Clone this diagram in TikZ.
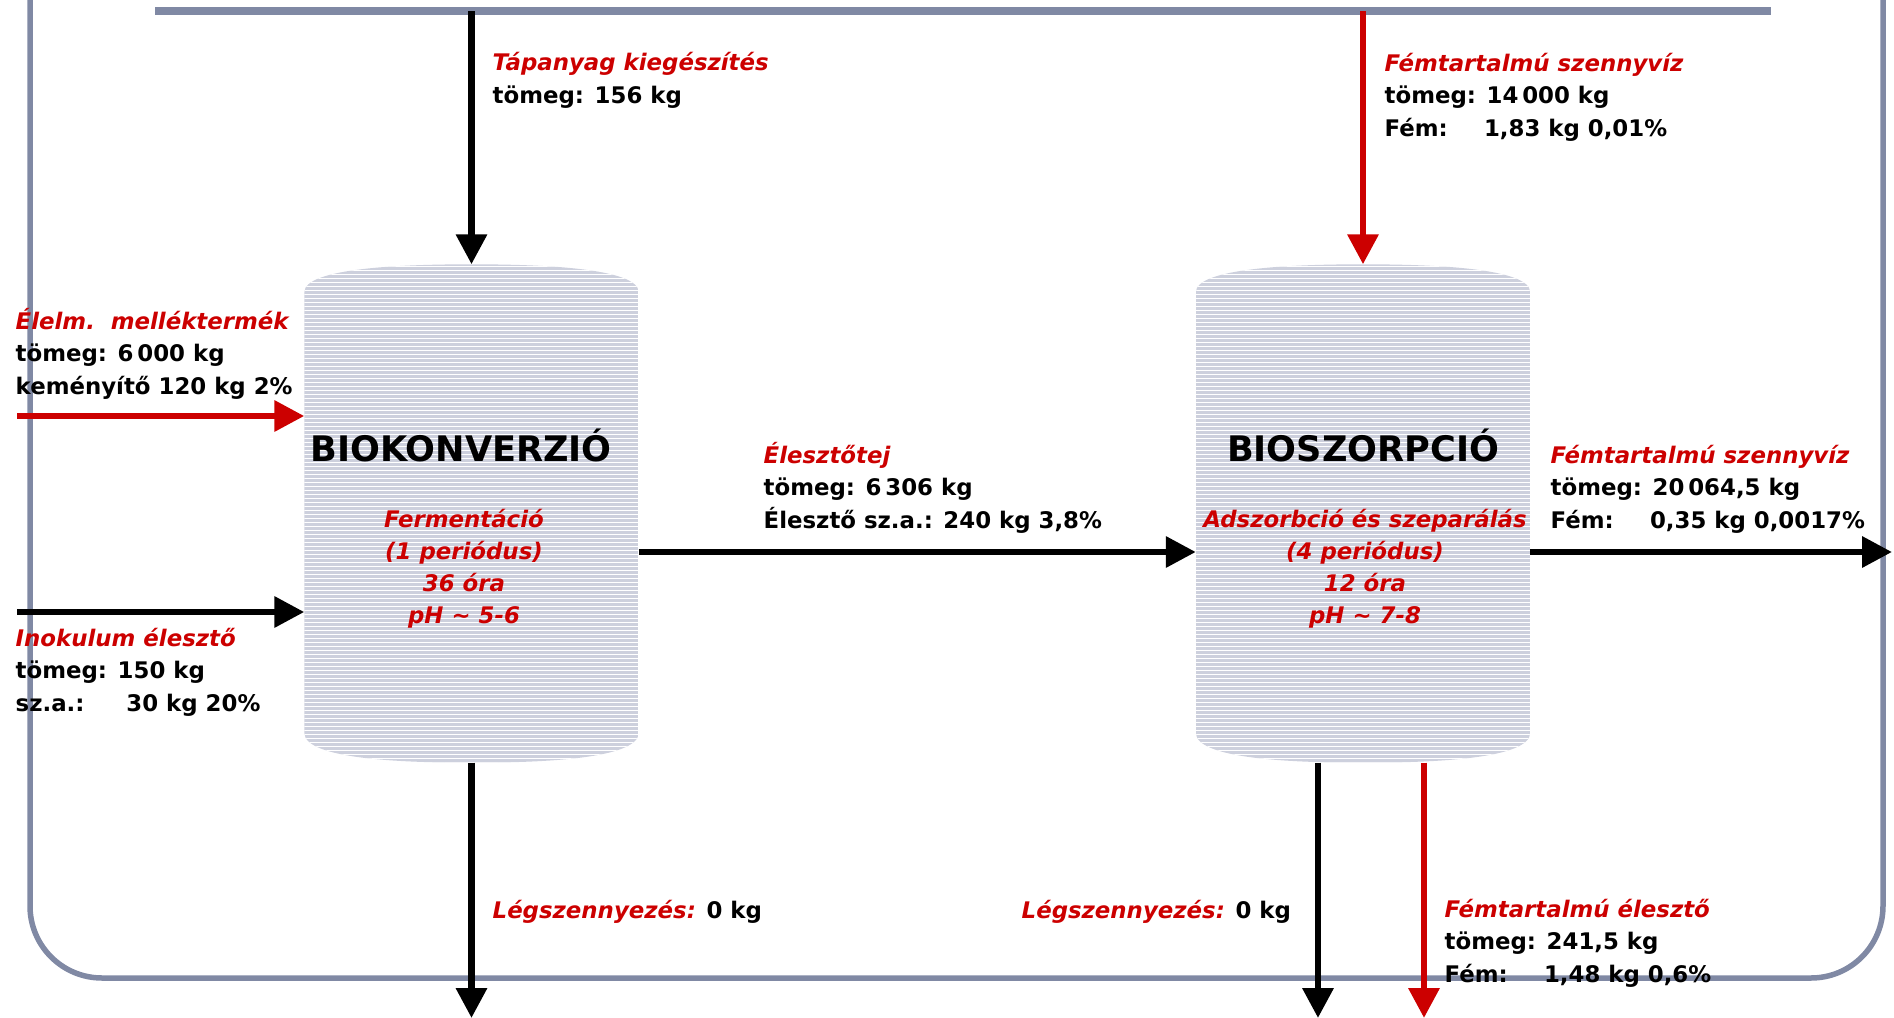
\documentclass[tikz,border=0pt]{standalone}
\usepackage{fontspec}
\setmainfont{DejaVu Sans}
\usetikzlibrary{arrows.meta}
\definecolor{flowred}{RGB}{204,0,0}
\definecolor{framegray}{RGB}{128,137,164}
\definecolor{tankgray}{RGB}{205,208,221}
\newcommand\rtitle[1]{{\color{flowred}\itshape #1}}
\newcommand\rowlabel[1]{\makebox[4.35em][l]{#1}}

\begin{document}
\begin{tikzpicture}[x=0.1mm,y=-0.1mm,
  >={Triangle[width=3mm,length=3mm]},
  flow/.style={->,line width=0.65mm},
  redflow/.style={flow,draw=flowred},
  frameline/.style={draw=framegray,line width=0.55mm},
  tank/.style={minimum width=33.3mm,minimum height=49.7mm,inner sep=0pt},
  info/.style={anchor=base west,align=left,inner sep=0pt,
    font=\fontsize{6.5}{9.2}\selectfont\bfseries},
  tanktitle/.style={anchor=base,inner sep=0pt,
    font=\fontsize{10}{12}\selectfont\bfseries},
  tankinfo/.style={anchor=base,align=center,inner sep=0pt,text=flowred,
    font=\fontsize{6.5}{9.1}\selectfont\bfseries\itshape}]
  % Tank outline
  \def\tankpath#1{([yshift=-2.8mm]#1.north west)
    .. controls ([yshift=-0.4mm]#1.north west) and ([xshift=9.5mm]#1.north west) .. (#1.north)
    .. controls ([xshift=-9.5mm]#1.north east) and ([yshift=-0.4mm]#1.north east) .. ([yshift=-2.8mm]#1.north east)
    -- ([yshift=3mm]#1.south east)
    .. controls ([yshift=0.4mm]#1.south east) and ([xshift=-9.5mm]#1.south east) .. (#1.south)
    .. controls ([xshift=9.5mm]#1.south west) and ([yshift=0.4mm]#1.south west) .. ([yshift=3mm]#1.south west)
    -- cycle}
  %
  \useasboundingbox (0,0) rectangle (1894,1018);
  \clip (0,0) rectangle (1894,1018);
  %
  % Frame
  \draw[frameline,rounded corners=7.2mm] (30,-80) -- (30,978) -- (1883,978) -- (1883,-80);
  \draw[draw=framegray,line width=0.8mm] (155,11) -- (1771,11);
  %
  % Tanks
  \node[tank] (bk) at (471.5,513.5) {};
  \node[tank] (bs) at (1363,513.5) {};
  \foreach \t in {bk,bs} {
    \begin{scope}
      \clip \tankpath{\t};
      \fill[tankgray] (\t.north west) rectangle (\t.south east);
      \foreach \k in {0,...,124}
        \draw[white,line width=0.1mm] ([yshift=-\k*0.4mm-0.2mm]\t.north west)
          -- ([yshift=-\k*0.4mm-0.2mm]\t.north east);
    \end{scope}
  }
  % (multi-line nodes sit on their last line)
  \node[tanktitle] (bktitle) at (461,461) {BIOKONVERZIÓ};
  \node[tankinfo] (bkinfo) at (464,623) {Fermentáció\\(1 periódus)\\36 óra\\pH \textasciitilde{} 5-6};
  \node[tanktitle] (bstitle) at (1363,461) {BIOSZORPCIÓ};
  \node[tankinfo] (bsinfo) at (1365,623) {Adszorbció és szeparálás\\(4 periódus)\\12 óra\\pH \textasciitilde{} 7-8};
  %
  % Flows
  \coordinate (feed) at (0,11);
  \coordinate (elmin) at (17,416);
  \coordinate (inoin) at (17,612);
  \coordinate (tejline) at (0,552);
  \coordinate (wout) at (1892,552);
  \coordinate (floor) at (0,1018);
  \coordinate (air2) at (1318,1018);
  \coordinate (yeast) at (1424,1018);
  \draw[flow] (bk.north |- feed) -- (bk.north);
  \draw[redflow] (bs.north |- feed) -- (bs.north);
  \draw[redflow] (elmin) -- (elmin -| bk.west);
  \draw[flow] (inoin) -- (inoin -| bk.west);
  \draw[flow] (bk.east |- tejline) -- (bs.west |- tejline);
  \draw[flow] (bs.east |- wout) -- (wout);
  \draw[flow] (bk.south) -- (bk.south |- floor);
  \draw[flow] (air2 |- bs.south) -- (air2);
  \draw[redflow] (yeast |- bs.south) -- (yeast);
  %
  % Stream data
  \node[info] (tap) at (492,103) {\rtitle{Tápanyag kiegészítés}\\tömeg: 156 kg};
  \node[info] (szin) at (1384,136) {\rtitle{Fémtartalmú szennyvíz}\\tömeg: 14\,000 kg\\\rowlabel{Fém:}1,83 kg 0,01\%};
  \node[info] (elm) at (15,394) {\rtitle{Élelm.\ \ melléktermék}\\tömeg: 6\,000 kg\\keményítő 120 kg 2\%};
  \node[info] (ino) at (15,711) {\rtitle{Inokulum élesztő}\\tömeg: 150 kg\\\rowlabel{sz.a.:}\hspace{0.5em}30 kg 20\%};
  \node[info] (tej) at (763,528) {\rtitle{Élesztőtej}\\tömeg: 6\,306 kg\\Élesztő sz.a.: 240 kg 3,8\%};
  \node[info] (szout) at (1550,528) {\rtitle{Fémtartalmú szennyvíz}\\tömeg: 20\,064,5 kg\\\rowlabel{Fém:}0,35 kg 0,0017\%};
  \node[info] (leg1) at (492,918) {\rtitle{Légszennyezés:} 0 kg};
  \node[info] (leg2) at (1021,918) {\rtitle{Légszennyezés:} 0 kg};
  \node[info] (yst) at (1444,982) {\rtitle{Fémtartalmú élesztő}\\tömeg: 241,5 kg\\\rowlabel{Fém:}1,48 kg 0,6\%};
  %
\end{tikzpicture}
\end{document}
